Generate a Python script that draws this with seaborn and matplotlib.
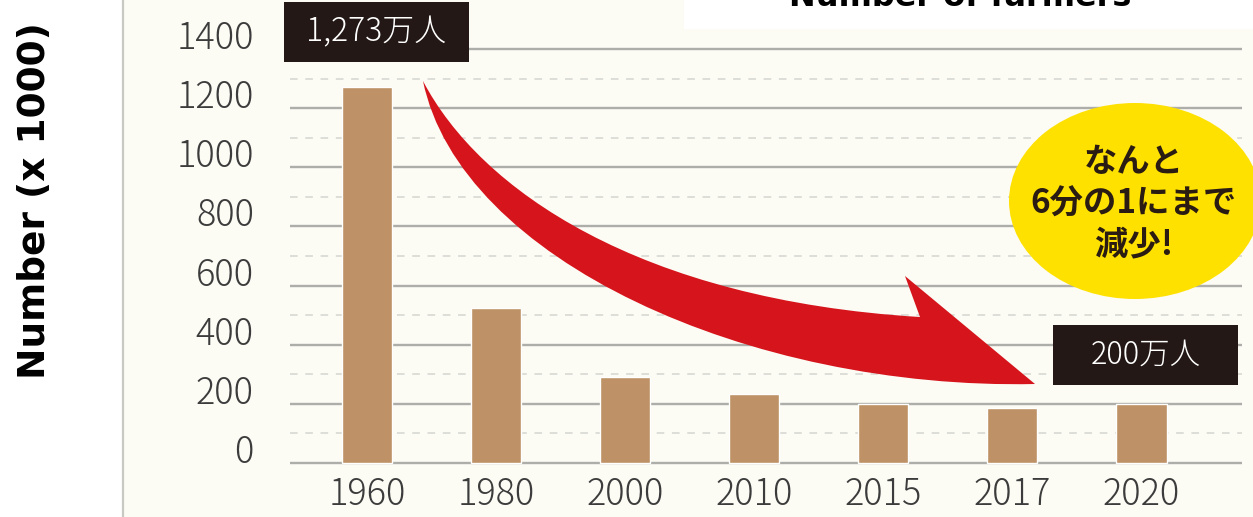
import matplotlib
matplotlib.use("Agg")
import matplotlib.pyplot as plt
from matplotlib.patches import Rectangle, Ellipse, PathPatch
from matplotlib.path import Path
import seaborn as sns
import pandas as pd

# Farmer counts by year (unit: 万人)
years = ["1960", "1980", "2000", "2010", "2015", "2017", "2020"]
farmers = [1273, 525, 290, 234, 200, 186, 200]
y_ticks = [0, 200, 400, 600, 800, 1000, 1200, 1400]
first_label_value = farmers[0]
last_label_value = farmers[-1]

W, H = 1253, 517
sns.set_theme(style="white")
plt.rcParams["font.family"] = ["Noto Sans CJK JP", "DejaVu Sans"]

fig = plt.figure(figsize=(W / 100, H / 100), dpi=100)
fig.patch.set_facecolor("white")


def fx(px):
    return px / W


def fy(py):
    return 1 - py / H


# cream panel behind the chart, with a thin border on its left side
fig.patches.append(Rectangle((fx(123), 0), fx(W - 123), 1, transform=fig.transFigure,
                             facecolor="#FCFBF4", edgecolor="none", zorder=-10))
fig.lines.append(plt.Line2D([fx(123), fx(123)], [0, 1], transform=fig.transFigure,
                            color="#C9C9C4", lw=1.6, zorder=-9))

# bar chart axes
ymin, ymax = -20, 1420
ppu = (463 - 49) / 1400.0
ax_top = 49 - (ymax - 1400) * ppu
ax_bot = 463 + (0 - ymin) * ppu
ax = fig.add_axes([fx(290), fy(ax_bot), fx(1242 - 290), (ax_bot - ax_top) / H])
ax.set_facecolor("none")

df = pd.DataFrame({"year": years, "farmers": farmers})
sns.barplot(data=df, x="year", y="farmers", color="#BE9266", saturation=1,
            width=0.39, ax=ax, zorder=3)

ax.set_xlim(-0.597, 6.78)
ax.set_ylim(ymin, ymax)
ax.set_yticks(y_ticks)
ax.set_yticks([v + 100 for v in y_ticks[:-1]], minor=True)
ax.grid(axis="y", which="major", color="#ADADAA", lw=1.7, zorder=0)
ax.grid(axis="y", which="minor", color="#D6D6D2", lw=1.1, ls=(0, (5, 5)), zorder=0)
ax.set_axisbelow(True)
for s in ax.spines.values():
    s.set_visible(False)
ax.set_xlabel("")
ax.set_ylabel("")
ax.tick_params(axis="both", which="both", length=0)
ax.tick_params(axis="y", pad=26, labelsize=26, labelcolor="#3C3C3C")
ax.tick_params(axis="x", pad=5, labelsize=26, labelcolor="#3C3C3C")
ax.set_yticklabels([str(v) for v in y_ticks])
for t in ax.get_yticklabels():
    t.set_verticalalignment("baseline")
    t.set_fontweight("light")
for t in ax.get_xticklabels():
    t.set_fontweight("light")

# curved red arrow showing the decline
arrow_verts = [
    (423, 81), (480, 190), (640, 300), (920, 317),
    (905, 276), (1035, 384),
    (750, 390), (460, 260), (423, 81),
    (423, 81),
]
arrow_codes = [
    Path.MOVETO, Path.CURVE4, Path.CURVE4, Path.CURVE4,
    Path.LINETO, Path.LINETO,
    Path.CURVE4, Path.CURVE4, Path.CURVE4,
    Path.CLOSEPOLY,
]
arrow_path = Path([(fx(x), fy(y)) for x, y in arrow_verts], arrow_codes)
fig.patches.append(PathPatch(arrow_path, transform=fig.transFigure,
                             facecolor="#D6141C", edgecolor="none", zorder=5))

# value call-outs
jp = ["Noto Sans CJK JP", "DejaVu Sans"]
fig.patches.append(Rectangle((fx(284), fy(62)), fx(469 - 284), (62 - 2) / H,
                             transform=fig.transFigure, facecolor="#231815",
                             edgecolor="none", zorder=6))
fig.text(fx(376.5), fy(32), f"{first_label_value:,}万人", color="white", fontsize=23,
         fontweight="light", family=jp, ha="center", va="center", zorder=7)
fig.patches.append(Rectangle((fx(1053), fy(385)), fx(1238 - 1053), (385 - 325) / H,
                             transform=fig.transFigure, facecolor="#231815",
                             edgecolor="none", zorder=6))
fig.text(fx(1145.5), fy(355), f"{last_label_value:,}万人", color="white", fontsize=22,
         fontweight="light", family=jp, ha="center", va="center", zorder=7)

# yellow bubble
fig.patches.append(Ellipse((fx(1135), fy(201)), fx(252), 196 / H,
                           transform=fig.transFigure, facecolor="#FFE100",
                           edgecolor="none", zorder=6))
for line, yy in [("なんと", 162), ("6分の1にまで", 204), ("減少!", 245)]:
    fig.text(fx(1134), fy(yy), line, color="#2A1C12", fontsize=24, fontweight="bold",
             family=jp, ha="center", va="center", zorder=7)

# title strip
fig.patches.append(Rectangle((fx(684), fy(29)), fx(W - 684), 29 / H,
                             transform=fig.transFigure, facecolor="white",
                             edgecolor="none", zorder=6))
fig.text(fx(960), fy(6.5), "Number of farmers", color="black", fontsize=23,
         fontweight="bold", family=["DejaVu Sans"], ha="center", va="baseline", zorder=7)

# axis title
fig.text(fx(35), fy(201), "Number (x 1000)", color="black", fontsize=27,
         fontweight="bold", family=["DejaVu Sans"], rotation=90,
         ha="center", va="center", zorder=7)

fig.savefig("out.png", dpi=100, facecolor=fig.get_facecolor())
